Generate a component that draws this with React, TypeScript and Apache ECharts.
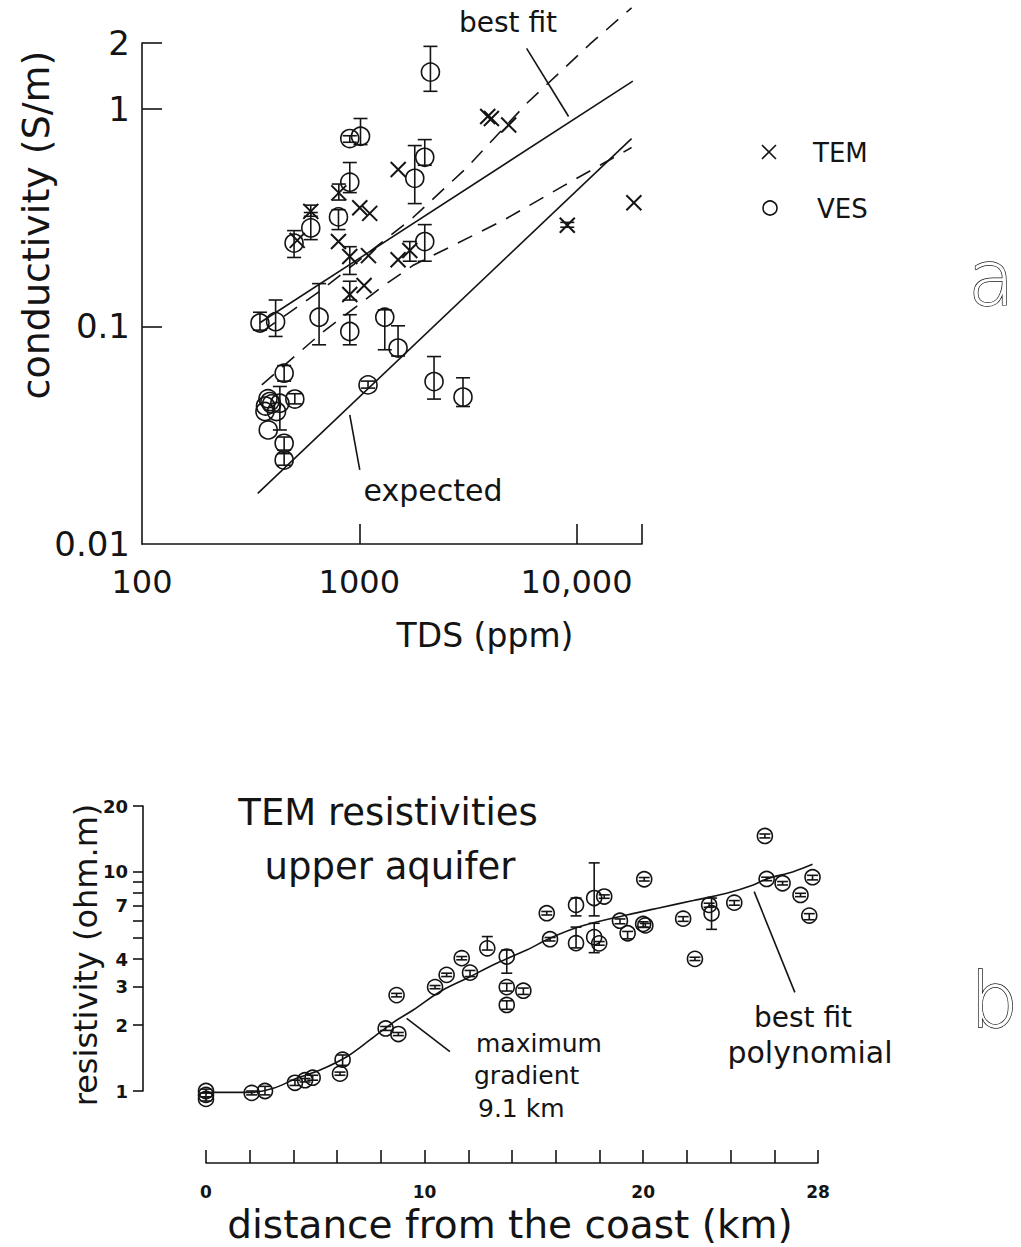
import React, { useEffect, useRef } from "react";
import * as echarts from "echarts";

const FONT = "'DejaVu Sans', sans-serif";
const INK = "#141414";

// ---------- Panel a : conductivity vs TDS ----------
const tdsTickValues = [1000, 10000, 20000];
const tdsLabelValues = [100, 1000, 10000];
const condTickValues = [0.1, 1, 2];
const condLabelValues = [0.01, 0.1, 1, 2];

// TEM soundings
const temTDS = [4055, 3900, 4870, 1510, 805, 1005, 1117, 598, 518, 802, 904, 1102, 1508, 1708, 1052, 904, 9060, 18350];
const temSigma = [0.9, 0.92, 0.84, 0.525, 0.41, 0.35, 0.33, 0.337, 0.248, 0.245, 0.209, 0.211, 0.202, 0.223, 0.154, 0.14, 0.291, 0.369];
const temLow = [0.9, 0.92, 0.84, 0.525, 0.38, 0.35, 0.33, 0.32, 0.248, 0.245, 0.173, 0.211, 0.202, 0.199, 0.154, 0.132, 0.285, 0.369];
const temHigh = [0.9, 0.92, 0.84, 0.525, 0.45, 0.35, 0.33, 0.36, 0.248, 0.245, 0.232, 0.211, 0.202, 0.245, 0.154, 0.161, 0.3, 0.369];

// VES soundings
const vesTDS = [2125, 904, 1013, 2001, 1800, 904, 802, 598, 501, 2001, 349, 412, 653, 904, 1310, 1508, 1097, 2208, 3001,
  451, 388, 380, 395, 370, 505, 368, 431, 381, 451, 451, 416];
const vesSigma = [1.47, 0.728, 0.746, 0.597, 0.478, 0.459, 0.318, 0.283, 0.241, 0.245, 0.1035, 0.105, 0.11, 0.0946, 0.11, 0.0794, 0.0538, 0.0557, 0.0473,
  0.0609, 0.0451, 0.0465, 0.044, 0.043, 0.0463, 0.0406, 0.0443, 0.0334, 0.029, 0.0243, 0.0406];
const vesLow = [1.2, 0.7, 0.683, 0.549, 0.366, 0.411, 0.278, 0.25, 0.207, 0.199, 0.096, 0.0898, 0.0822, 0.0822, 0.078, 0.073, 0.052, 0.0463, 0.0428,
  0.056, 0.0451, 0.0465, 0.044, 0.043, 0.044, 0.0406, 0.0334, 0.0334, 0.027, 0.023, 0.0406];
const vesHigh = [1.93, 0.75, 0.9, 0.72, 0.676, 0.565, 0.343, 0.333, 0.275, 0.293, 0.116, 0.132, 0.157, 0.113, 0.119, 0.1005, 0.056, 0.0726, 0.058,
  0.066, 0.0451, 0.0465, 0.044, 0.043, 0.049, 0.0406, 0.0529, 0.0334, 0.031, 0.026, 0.0406];

// fitted lines (TDS, conductivity)
const bestFitLine = [[349, 0.1038], [18150, 1.336]];
const upperDashed = [[356, 0.0943], [672, 0.147], [1762, 0.315], [3122, 0.535], [5953, 1.066], [11470, 1.969], [17900, 2.9]];
const lowerDashed = [[356, 0.0538], [672, 0.0933], [1310, 0.155], [1762, 0.19], [4667, 0.309], [8895, 0.447], [17900, 0.662]];
const expectedLine = [[341, 0.01707], [17900, 0.728]];
const bestFitLeader = [[5888, 1.888], [9187, 0.919]];
const expectedLeader = [[904, 0.0392], [1005, 0.0219]];

// ---------- Panel b : resistivity vs distance ----------
const distTickLabels = [0, 10, 20, 28];
const resTickValues = [1, 2, 3, 4, 5, 6, 7, 8, 9, 10, 20];
const resLabelValues = [1, 2, 3, 4, 7, 10, 20];

const distKm = [0, 0, 0, 2.09, 2.7, 4.07, 4.53, 4.88, 6.13, 6.25, 8.22, 8.8, 8.72, 10.48, 11.01, 11.7, 12.08, 12.87, 13.76, 13.76, 13.76,
  14.52, 15.74, 15.59, 16.93, 16.93, 17.76, 18.22, 17.76, 17.99, 18.94, 19.29, 20.05, 20.0, 20.1, 21.83, 22.37, 23.02, 23.13, 24.17,
  25.57, 25.65, 26.38, 27.2, 27.75, 27.6];
const resOhm = [1.0, 0.96, 0.92, 0.98, 1.0, 1.09, 1.12, 1.15, 1.2, 1.39, 1.93, 1.82, 2.74, 2.98, 3.39, 4.04, 3.47, 4.48, 4.11, 2.98, 2.47,
  2.87, 4.93, 6.48, 7.07, 4.73, 7.6, 7.72, 5.04, 4.72, 5.99, 5.25, 9.26, 5.79, 5.7, 6.12, 4.01, 7.07, 6.48, 7.24,
  14.6, 9.29, 8.88, 7.85, 9.46, 6.32];
const resLow = [0.98, 0.94, 0.9, 0.96, 0.96, 1.06, 1.1, 1.12, 1.18, 1.31, 1.89, 1.79, 2.69, 2.93, 3.33, 3.97, 3.33, 4.4, 3.45, 2.86, 2.36,
  2.76, 4.84, 6.36, 6.3, 4.5, 6.3, 7.58, 4.28, 4.63, 5.8, 4.95, 9.09, 5.6, 5.58, 5.95, 3.94, 6.9, 5.47, 7.05,
  14.3, 9.12, 8.72, 7.71, 9.2, 6.05];
const resHigh = [1.02, 0.98, 0.94, 1.0, 1.05, 1.12, 1.14, 1.18, 1.22, 1.46, 1.97, 1.85, 2.79, 3.03, 3.45, 4.11, 3.55, 5.07, 4.4, 3.1, 2.58,
  2.95, 5.02, 6.6, 7.6, 5.6, 11.0, 7.86, 5.83, 4.81, 6.1, 5.35, 9.43, 5.92, 5.82, 6.25, 4.08, 7.2, 7.6, 7.4,
  14.9, 9.46, 9.04, 7.99, 9.65, 6.45];

const polyFit = [[0, 0.986], [2.09, 0.986], [3.08, 1.029], [4.15, 1.143], [5.22, 1.247], [6.44, 1.434], [7.5, 1.71], [8.57, 2.059],
  [9.48, 2.344], [10.7, 2.84], [11.93, 3.27], [13.3, 3.83], [14.67, 4.4], [15.74, 4.98], [17.11, 5.63], [19.25, 6.36], [20.77, 6.87],
  [22.29, 7.4], [23.82, 7.99], [25.04, 8.72], [25.65, 9.29], [26.87, 10.03], [27.75, 10.84]];
const gradientLeader = [[9.18, 2.148], [11.16, 1.512]];
const polyLeader = [[25.08, 8.13], [26.94, 2.82]];

// distance axis of panel b: the resistivity axis sits left of the 0 km mark
const DIST_MIN = -2.882;
const DIST_MAX = 28;

function makeRender(kind: "circle" | "cross", r: number, cap: number) {
  return (params: any, api: any) => {
    const x = api.value(0);
    const p = api.coord([x, api.value(1)]);
    const lo = api.coord([x, api.value(2)]);
    const hi = api.coord([x, api.value(3)]);
    const st = { stroke: INK, lineWidth: 1.6, fill: "none" };
    const children: any[] = [];
    if (Math.abs(lo[1] - hi[1]) > 0.5) {
      children.push({ type: "line", shape: { x1: p[0], y1: lo[1], x2: p[0], y2: hi[1] }, style: st });
      children.push({ type: "line", shape: { x1: p[0] - cap, y1: lo[1], x2: p[0] + cap, y2: lo[1] }, style: st });
      children.push({ type: "line", shape: { x1: p[0] - cap, y1: hi[1], x2: p[0] + cap, y2: hi[1] }, style: st });
    }
    if (kind === "circle") {
      children.push({ type: "circle", shape: { cx: p[0], cy: p[1], r }, style: st });
    } else {
      children.push({ type: "line", shape: { x1: p[0] - r, y1: p[1] - r, x2: p[0] + r, y2: p[1] + r }, style: { ...st, lineWidth: 2 } });
      children.push({ type: "line", shape: { x1: p[0] - r, y1: p[1] + r, x2: p[0] + r, y2: p[1] - r }, style: { ...st, lineWidth: 2 } });
    }
    return { type: "group", children };
  };
}

function lineSeries(data: number[][], grid: number, dashed: boolean) {
  return {
    type: "line",
    xAxisIndex: grid,
    yAxisIndex: grid,
    data,
    showSymbol: false,
    symbol: "none",
    clip: false,
    silent: true,
    lineStyle: { color: INK, width: 1.6, type: dashed ? [16, 11] : "solid" },
  };
}

function txt(text: string, x: number, y: number, size: number, align = "center", extra: any = {}) {
  return {
    type: "text",
    x,
    y,
    style: { text, fill: INK, font: `${size}px ${FONT}`, align, verticalAlign: "middle", ...extra },
    silent: true,
  };
}

function buildOption() {
  const temData = temTDS.map((t, i) => [t, temSigma[i], temLow[i], temHigh[i]]);
  const vesData = vesTDS.map((t, i) => [t, vesSigma[i], vesLow[i], vesHigh[i]]);
  const resData = distKm.map((d, i) => [d, resOhm[i], resLow[i], resHigh[i]]);
  const axisLine = { onZero: false, lineStyle: { color: INK, width: 1.6 } };
  return {
    animation: false,
    backgroundColor: "#ffffff",
    grid: [
      { left: 142, top: 43, width: 500, height: 501, outerBoundsMode: "none" },
      { left: 143, top: 806, width: 675, height: 285, outerBoundsMode: "none" },
      { left: 206, top: 1150, width: 612, height: 13, outerBoundsMode: "none" },
    ],
    xAxis: [
      {
        type: "log", logBase: 10, gridIndex: 0, min: 100, max: 20000,
        axisLine,
        axisTick: { inside: true, length: 20, lineStyle: { color: INK, width: 1.6 }, customValues: tdsTickValues },
        axisLabel: {
          customValues: tdsLabelValues, margin: 22, color: INK, fontFamily: FONT, fontSize: 32,
          formatter: (v: number) => (Math.round(v) === 10000 ? "10,000" : String(Math.round(v))),
        },
        splitLine: { show: false }, minorTick: { show: false },
      },
      {
        type: "value", gridIndex: 1, min: DIST_MIN, max: DIST_MAX, show: false,
      },
      {
        type: "value", gridIndex: 2, min: 0, max: 28, interval: 2,
        axisLine,
        axisTick: { inside: true, length: 13, lineStyle: { color: INK, width: 1.6 } },
        axisLabel: {
          interval: 0, margin: 20, color: INK, fontFamily: FONT, fontSize: 17, fontWeight: "bold",
          formatter: (v: number) => (distTickLabels.indexOf(v) >= 0 ? String(v) : ""),
        },
        splitLine: { show: false },
      },
    ],
    yAxis: [
      {
        type: "log", logBase: 10, gridIndex: 0, min: 0.01, max: 2,
        axisLine,
        axisTick: { inside: true, length: 20, lineStyle: { color: INK, width: 1.6 }, customValues: condTickValues },
        axisLabel: {
          customValues: condLabelValues, margin: 12, color: INK, fontFamily: FONT, fontSize: 34,
          formatter: (v: number) => String(Number(Number(v).toPrecision(3))),
        },
        splitLine: { show: false }, minorTick: { show: false },
      },
      {
        type: "log", logBase: 10, gridIndex: 1, min: 1, max: 20,
        axisLine,
        axisTick: { inside: false, length: 10, lineStyle: { color: INK, width: 1.6 }, customValues: resTickValues },
        axisLabel: {
          customValues: resLabelValues, margin: 15, color: INK, fontFamily: FONT, fontSize: 18, fontWeight: "bold",
          formatter: (v: number) => String(Math.round(v)),
        },
        splitLine: { show: false }, minorTick: { show: false },
      },
      { type: "value", gridIndex: 2, min: 0, max: 1, show: false },
    ],
    series: [
      { type: "custom", name: "TEM", xAxisIndex: 0, yAxisIndex: 0, data: temData, renderItem: makeRender("cross", 7.5, 7), silent: true },
      { type: "custom", name: "VES", xAxisIndex: 0, yAxisIndex: 0, data: vesData, renderItem: makeRender("circle", 9, 7), silent: true },
      lineSeries(bestFitLine, 0, false),
      lineSeries(upperDashed, 0, true),
      lineSeries(lowerDashed, 0, true),
      lineSeries(expectedLine, 0, false),
      lineSeries(bestFitLeader, 0, false),
      lineSeries(expectedLeader, 0, false),
      { type: "custom", name: "TEM resistivity", xAxisIndex: 1, yAxisIndex: 1, data: resData, renderItem: makeRender("circle", 7.5, 5.5), silent: true },
      { ...lineSeries(polyFit, 1, false), smooth: 0.35 },
      lineSeries(gradientLeader, 1, false),
      lineSeries(polyLeader, 1, false),
    ],
    graphic: [
      // panel a annotations
      txt("best fit", 508, 22, 28),
      txt("expected", 433, 490, 30),
      { type: "line", shape: { x1: 762, y1: 145, x2: 776, y2: 159 }, style: { stroke: INK, lineWidth: 1.6 } },
      { type: "line", shape: { x1: 762, y1: 159, x2: 776, y2: 145 }, style: { stroke: INK, lineWidth: 1.6 } },
      txt("TEM", 813, 153, 26, "left"),
      { type: "circle", shape: { cx: 770, cy: 208, r: 7 }, style: { stroke: INK, lineWidth: 1.6, fill: "none" } },
      txt("VES", 817, 209, 26, "left"),
      {
        type: "text", x: 36, y: 225, rotation: Math.PI / 2,
        style: { text: "conductivity (S/m)", fill: INK, font: `38px ${FONT}`, align: "center", verticalAlign: "middle" },
      },
      txt("TDS (ppm)", 485, 635, 33),
      txt("a", 968, 278, 76, "left", { fill: "#ffffff", stroke: INK, lineWidth: 1.4, font: `300 76px ${FONT}` }),
      // panel b annotations
      txt("TEM resistivities", 388, 812, 37),
      txt("upper aquifer", 390, 866, 37),
      txt("maximum", 476, 1043, 25, "left"),
      txt("gradient", 474, 1075, 25, "left"),
      txt("9.1 km", 478, 1108, 25, "left"),
      txt("best fit", 803, 1017, 28),
      txt("polynomial", 810, 1052, 30),
      {
        type: "text", x: 86, y: 955, rotation: Math.PI / 2,
        style: { text: "resistivity (ohm.m)", fill: INK, font: `32px ${FONT}`, align: "center", verticalAlign: "middle" },
      },
      txt("distance from the coast (km)", 510, 1224, 39),
      txt("b", 970, 1000, 76, "left", { fill: "#ffffff", stroke: INK, lineWidth: 1.4, font: `300 76px ${FONT}` }),
    ],
  };
}

export default function App() {
  const ref = useRef<HTMLDivElement>(null);
  useEffect(() => {
    if (!ref.current) return;
    const chart = echarts.init(ref.current, null, { renderer: "svg" });
    chart.setOption(buildOption() as any);
    return () => chart.dispose();
  }, []);
  return (
    <div
      ref={ref}
      style={{ position: "absolute", left: 0, top: 0, width: 1021, height: 1247, background: "#ffffff" }}
    />
  );
}
